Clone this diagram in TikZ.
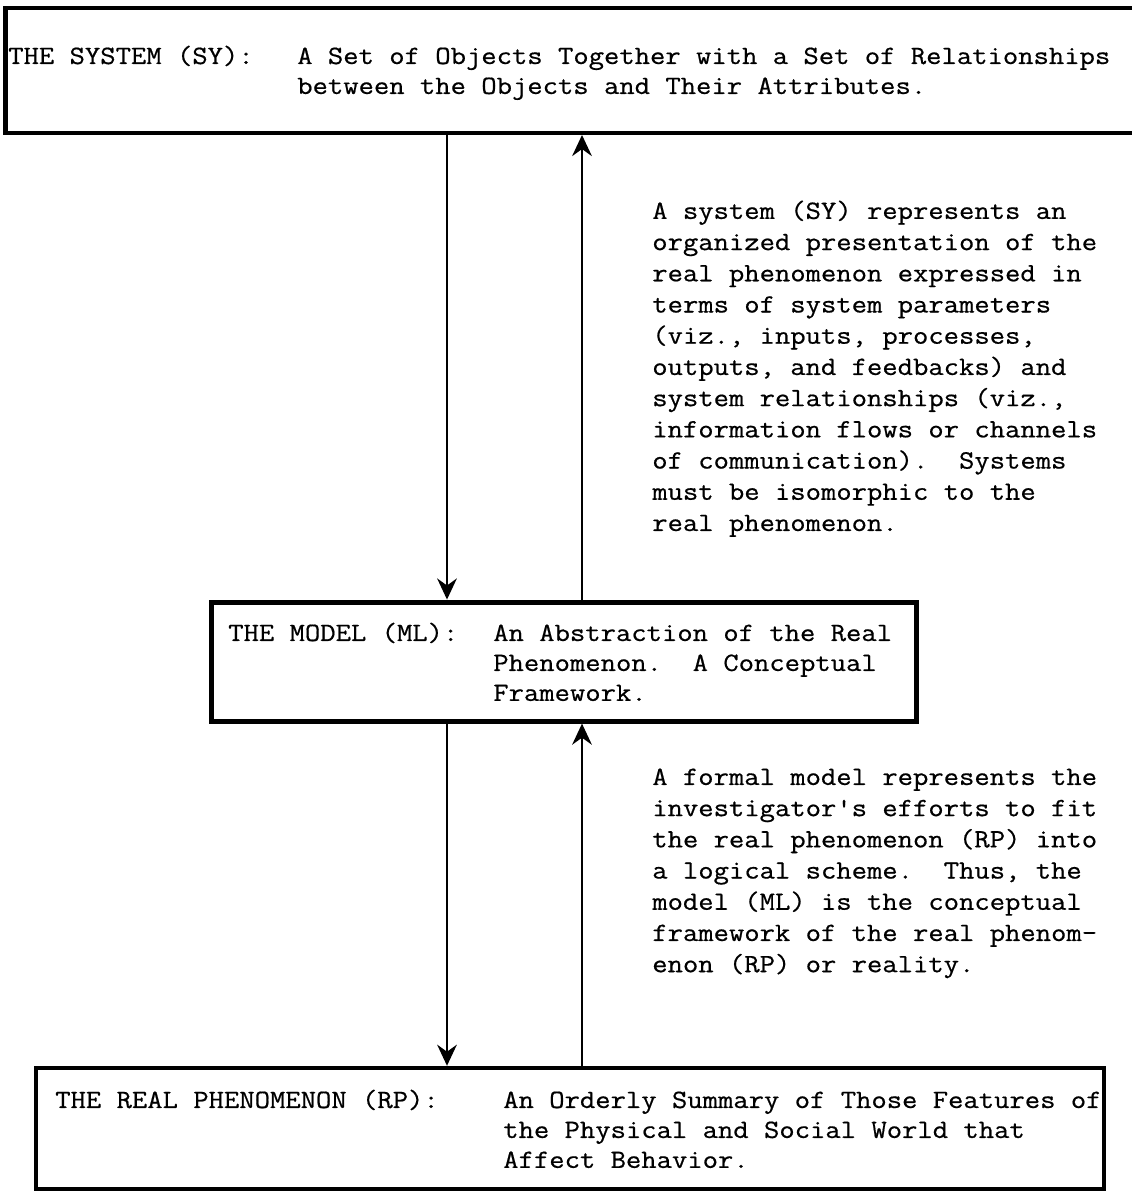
\documentclass[tikz,border=0pt]{standalone}
\usepackage{fontspec}
\newfontfamily\twfont[FakeStretch=1.13,FakeBold=0.6]{Latin Modern Mono}
\usetikzlibrary{arrows.meta,positioning,calc}

\begin{document}
\begin{tikzpicture}[
    twtext/.style={anchor=base west, inner sep=0pt, align=left,
      font=\fontsize{18.75}{21.3}\twfont},
    twnote/.style={twtext, font=\fontsize{18.75}{22.2}\twfont},
    frame/.style={draw, inner sep=0pt, line width=3pt},
    flow/.style={line width=1.6pt, -{Stealth[length=15pt,width=14pt,inset=5pt]}}
  ]
  \useasboundingbox (0,0) rectangle (28.3,29.8);

  % Boxes
  \node[frame, minimum width=28.46cm, minimum height=3.125cm] (sy) at (14.37, 28.04) {};
  \node[frame, line width=3.6pt, minimum width=17.625cm, minimum height=2.975cm] (ml) at (14.11, 13.26) {};
  \node[frame, minimum width=26.7cm, minimum height=3.025cm] (rp) at (14.25, 1.59) {};

  % Box texts (placed at the baseline of the last line)
  \node[twtext] (sylbl) at (0.2, 28.2) {THE SYSTEM (SY):};
  \node[twtext] (sydesc) at (7.425, 27.451) {A Set of Objects Together with a Set of Relationships\\between the Objects and Their Attributes.};
  \node[twtext] (mllbl) at (5.7, 13.775) {THE MODEL (ML):};
  \node[twtext] (mldesc) at (12.325, 12.278) {An Abstraction of the Real\\Phenomenon.\ \ A Conceptual\\Framework.};
  \node[twtext] (rplbl) at (1.375, 2.1) {THE REAL PHENOMENON (RP):};
  \node[twtext] (rpdesc) at (12.575, 0.603) {An Orderly Summary of Those Features of\\the Physical and Social World that\\Affect Behavior.};

  % Notes
  \node[twnote] (synote) at (16.3, 16.525) {A system (SY) represents an\\organized presentation of the\\real phenomenon expressed in\\terms of system parameters\\(viz., inputs, processes,\\outputs, and feedbacks) and\\system relationships (viz.,\\information flows or channels\\of communication).\ \ Systems\\must be isomorphic to the\\real phenomenon.};
  \node[twnote] (mlnote) at (16.3, 5.495) {A formal model represents the\\investigator's efforts to fit\\the real phenomenon (RP) into\\a logical scheme.\ \ Thus, the\\model (ML) is the conceptual\\framework of the real phenom-\\enon (RP) or reality.};

  % Arrows
  \coordinate (dn) at (11.175, 0);
  \coordinate (up) at (14.55, 0);
  \draw[flow] (sy.south -| dn) -- (ml.north -| dn);
  \draw[flow] (ml.north -| up) -- (sy.south -| up);
  \draw[flow] (ml.south -| dn) -- (rp.north -| dn);
  \draw[flow] (rp.north -| up) -- (ml.south -| up);
\end{tikzpicture}
\end{document}
